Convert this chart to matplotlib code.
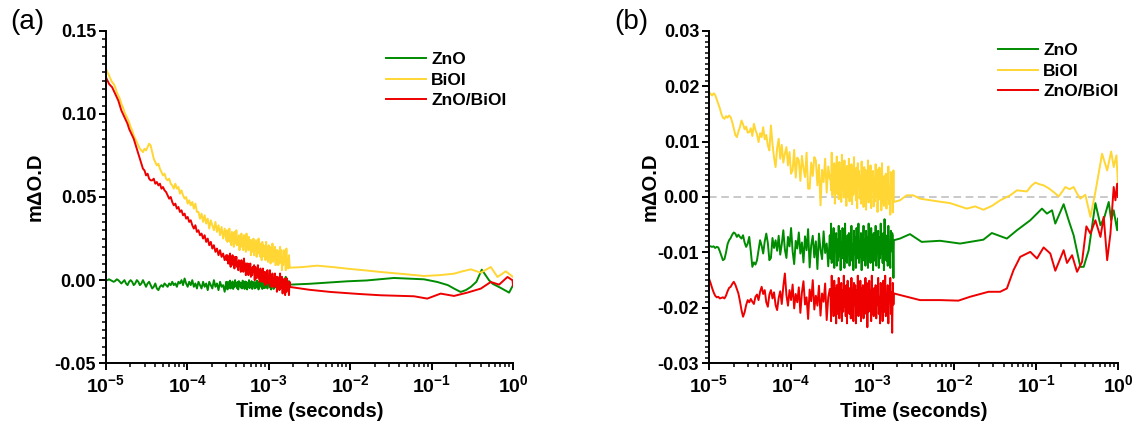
import numpy as np
import matplotlib
matplotlib.use("Agg")
import matplotlib.pyplot as plt
from matplotlib.ticker import FixedLocator, LogLocator, MultipleLocator, NullFormatter
from matplotlib.font_manager import FontProperties

plt.rcParams['font.family'] = ['Liberation Sans', 'DejaVu Sans']
plt.rcParams['mathtext.fontset'] = 'custom'
plt.rcParams['mathtext.rm'] = 'Liberation Sans:bold'
plt.rcParams['mathtext.bf'] = 'Liberation Sans:bold'
plt.rcParams['mathtext.it'] = 'Liberation Sans:bold:italic'
plt.rcParams['axes.unicode_minus'] = False

# ---------------------------------------------------------------------------
# Transient absorption decays (mΔO.D)
# fast window, part 1: 1e-5 .. 3e-4 s   (log-spaced samples)
# fast window, part 2: 3e-4 .. 1.8e-3 s (dense samples)
# slow window: 1.8e-3 .. 1 s            (given as log10 t, value)
# ---------------------------------------------------------------------------
t_start, t_mid, t_fast_end = 1e-5, 3.0e-4, 1.8e-3

# ----- panel (a) -----
zno_a_early = [
    0.000, 0.000, 0.0005, 0.000, -0.0005, -0.001, -0.0005, 0.0005, 0.000, -0.001,
    -0.002, -0.001, 0.000, -0.002, -0.003, -0.001, 0.000, -0.001, -0.003, -0.002,
    0.000, -0.001, -0.003, -0.002, 0.000, -0.002, -0.004, -0.002, -0.001, -0.003,
    -0.005, -0.004, -0.002, -0.005, -0.006, -0.004, -0.003, -0.004, -0.002, -0.003,
    -0.004, -0.002, -0.003, -0.001, -0.003, -0.002, -0.004, -0.001, -0.002, 0.000,
    -0.003, 0.001, -0.002, -0.004, -0.001, -0.003, 0.000, -0.004, -0.002, -0.005,
    -0.001, -0.003, -0.005, -0.001, -0.004, -0.002, -0.006, -0.001, -0.003, -0.005,
    0.000, -0.004, -0.002, -0.006, -0.001, -0.004, -0.003, -0.007, -0.001,
]
zno_a_late = [
    -0.0014, -0.0056, -0.0011, -0.0028, -0.0045, -0.0003, -0.0050, -0.0020, -0.0034, -0.0008,
    -0.0053, -0.0017, -0.0042, 0.0000, -0.0036, -0.0022, -0.0048, -0.0011, -0.0056, -0.0006,
    -0.0031, -0.0014, -0.0045, -0.0020, -0.0050, -0.0003, -0.0039, -0.0025, -0.0053, -0.0008,
    -0.0034, -0.0011, -0.0056, -0.0017, -0.0042, 0.0000, -0.0048, -0.0022, -0.0036, -0.0006,
    -0.0053, -0.0014, -0.0031, -0.0011, -0.0050, -0.0020, -0.0045, -0.0003, -0.0039, -0.0008,
    -0.0056, -0.0022, -0.0042, -0.0006, -0.0034, -0.0017, -0.0053, 0.0000, -0.0045, -0.0025,
    -0.0048, -0.0014, -0.0036, -0.0011, -0.0050, -0.0020, -0.0034, -0.0003, -0.0045, -0.0025,
    -0.0056, -0.0008, -0.0036, -0.0017, -0.0053, -0.0006, -0.0028, -0.0042, 0.0000, -0.0048,
    -0.0022, -0.0039, -0.0011, -0.0056, -0.0014, -0.0031, -0.0003, -0.0045, -0.0020, -0.0050,
    -0.0008, -0.0034, -0.0017, 0.0020, 0.0000, -0.0039, -0.0025, -0.0048, -0.0006, -0.0036,
]
zno_a_slow_logt = [-2.74, -2.5, -2.2, -2.036, -1.8, -1.463, -1.25, -1.094, -0.93, -0.8,
                   -0.72, -0.643, -0.58, -0.519, -0.45, -0.384, -0.294, -0.25, -0.15, -0.048, 0.0]
zno_a_slow = [-0.0027, -0.0022, -0.0012, -0.0007, -0.0002, 0.0013, 0.0008, 0.0005, -0.0011, -0.0030,
              -0.0052, -0.0071, -0.0060, -0.0041, -0.0010, 0.0063, -0.0001, -0.0022, -0.0047, -0.0075, -0.0030]

biol_a_early = [
    0.127, 0.125, 0.123, 0.121, 0.119, 0.118, 0.116, 0.113, 0.111, 0.109,
    0.106, 0.104, 0.101, 0.099, 0.097, 0.095, 0.092, 0.090, 0.087, 0.085,
    0.083, 0.081, 0.079, 0.078, 0.077, 0.079, 0.078, 0.080, 0.082, 0.081,
    0.077, 0.073, 0.071, 0.069, 0.070, 0.067, 0.065, 0.063, 0.064, 0.061,
    0.060, 0.061, 0.058, 0.057, 0.055, 0.058, 0.055, 0.056, 0.052, 0.054,
    0.051, 0.049, 0.050, 0.046, 0.048, 0.045, 0.047, 0.043, 0.046, 0.041,
    0.041, 0.037, 0.040, 0.035, 0.039, 0.034, 0.037, 0.031, 0.036, 0.033,
    0.030, 0.035, 0.029, 0.033, 0.027, 0.032, 0.025, 0.031, 0.024,
]
biol_a_late = [
    0.030, 0.023, 0.028, 0.025, 0.031, 0.023, 0.027, 0.021, 0.029, 0.024,
    0.027, 0.020, 0.029, 0.025, 0.022, 0.030, 0.021, 0.025, 0.022, 0.027,
    0.018, 0.026, 0.023, 0.028, 0.020, 0.025, 0.018, 0.027, 0.021, 0.025,
    0.017, 0.028, 0.020, 0.022, 0.018, 0.026, 0.019, 0.024, 0.015, 0.024,
    0.021, 0.017, 0.025, 0.015, 0.022, 0.019, 0.024, 0.014, 0.022, 0.016,
    0.025, 0.017, 0.020, 0.014, 0.022, 0.012, 0.023, 0.017, 0.021, 0.014,
    0.019, 0.012, 0.023, 0.014, 0.017, 0.011, 0.021, 0.015, 0.020, 0.010,
    0.018, 0.012, 0.022, 0.011, 0.016, 0.013, 0.020, 0.009, 0.018, 0.014,
    0.018, 0.009, 0.016, 0.010, 0.020, 0.011, 0.018, 0.006, 0.014, 0.009,
    0.018, 0.011, 0.015, 0.006, 0.019, 0.008, 0.012, 0.007, 0.015, 0.009,
]
biol_a_slow_logt = [-2.74, -2.6, -2.405, -2.2, -2.036, -1.8, -1.626, -1.35, -1.094, -0.9,
                    -0.725, -0.621, -0.519, -0.396, -0.273, -0.191, -0.089, 0.0]
biol_a_slow = [0.0075, 0.0078, 0.0087, 0.0078, 0.0069, 0.0058, 0.0049, 0.0037, 0.0025, 0.0030,
               0.0039, 0.0053, 0.0065, 0.0045, 0.0079, 0.0019, 0.0053, 0.0019]

hetero_a_early = [
    0.122, 0.120, 0.118, 0.117, 0.116, 0.114, 0.112, 0.110, 0.108, 0.105,
    0.102, 0.100, 0.098, 0.096, 0.094, 0.091, 0.089, 0.087, 0.085, 0.082,
    0.079, 0.076, 0.073, 0.070, 0.067, 0.066, 0.063, 0.064, 0.061, 0.060,
    0.060, 0.061, 0.058, 0.059, 0.057, 0.058, 0.055, 0.056, 0.054, 0.053,
    0.051, 0.049, 0.050, 0.047, 0.045, 0.046, 0.043, 0.044, 0.041, 0.042,
    0.039, 0.040, 0.037, 0.038, 0.035, 0.036, 0.033, 0.031, 0.033, 0.029,
    0.030, 0.027, 0.028, 0.025, 0.027, 0.023, 0.025, 0.021, 0.023, 0.019,
    0.021, 0.017, 0.019, 0.015, 0.018, 0.014, 0.016, 0.012, 0.015,
]
hetero_a_late = [
    0.012, 0.015, 0.010, 0.013, 0.010, 0.016, 0.008, 0.013, 0.011, 0.015,
    0.009, 0.012, 0.007, 0.014, 0.009, 0.014, 0.008, 0.011, 0.006, 0.012,
    0.009, 0.011, 0.005, 0.012, 0.007, 0.009, 0.005, 0.013, 0.006, 0.010,
    0.003, 0.010, 0.006, 0.010, 0.003, 0.007, 0.005, 0.010, 0.002, 0.007,
    0.003, 0.008, 0.005, 0.009, 0.000, 0.008, 0.001, 0.005, 0.003, 0.009,
    0.001, 0.006, -0.001, 0.007, 0.002, 0.005, -0.001, 0.007, -0.001, 0.002,
    0.005, -0.003, 0.004, 0.000, 0.006, -0.002, 0.002, -0.001, 0.006, -0.004,
    0.003, -0.001, 0.004, -0.004, 0.001, -0.004, 0.004, -0.002, 0.002, -0.007,
    0.002, -0.004, -0.001, -0.006, 0.004, -0.005, -0.002, 0.002, -0.008, -0.001,
    -0.005, 0.001, -0.009, -0.003, -0.007, 0.001, -0.005, -0.003, -0.009, -0.001,
]
hetero_a_slow_logt = [-2.74, -2.5, -2.242, -1.9, -1.626, -1.217, -1.053, -0.889, -0.725, -0.561,
                      -0.396, -0.273, -0.171, -0.068, -0.006, 0.0]
hetero_a_slow = [-0.0041, -0.0058, -0.0071, -0.0083, -0.0091, -0.0097, -0.0111, -0.0081, -0.0095, -0.0075,
                 -0.0051, -0.0011, -0.0027, 0.0019, -0.0001, -0.0035]

# ----- panel (b) -----
zno_b_early = [
    -0.0088, -0.0089, -0.0090, -0.0089, -0.0092, -0.0090, -0.0091, -0.0098, -0.0106, -0.0114,
    -0.0112, -0.0100, -0.0085, -0.0078, -0.0074, -0.0068, -0.0064, -0.0066, -0.0072, -0.0068,
    -0.0072, -0.0075, -0.0069, -0.0082, -0.0090, -0.0084, -0.0072, -0.0098, -0.0126, -0.0118,
    -0.0122, -0.0114, -0.0096, -0.0078, -0.0088, -0.0102, -0.0080, -0.0066, -0.0083, -0.0114,
    -0.0110, -0.0074, -0.0092, -0.0078, -0.0097, -0.0070, -0.0104, -0.0085, -0.0060, -0.0095,
    -0.0110, -0.0072, -0.0089, -0.0056, -0.0098, -0.0121, -0.0079, -0.0093, -0.0064, -0.0102,
    -0.0082, -0.0118, -0.0071, -0.0096, -0.0058, -0.0127, -0.0087, -0.0070, -0.0109, -0.0080,
    -0.0130, -0.0066, -0.0095, -0.0112, -0.0062, -0.0101, -0.0084, -0.0125, -0.0069,
]
zno_b_late = [
    -0.0111, -0.0048, -0.0119, -0.0082, -0.0103, -0.0056, -0.0128, -0.0069, -0.0094, -0.0065,
    -0.0124, -0.0077, -0.0115, -0.0052, -0.0107, -0.0061, -0.0132, -0.0082, -0.0111, -0.0056,
    -0.0098, -0.0073, -0.0128, -0.0048, -0.0115, -0.0086, -0.0119, -0.0069, -0.0103, -0.0065,
    -0.0124, -0.0077, -0.0098, -0.0052, -0.0115, -0.0086, -0.0132, -0.0061, -0.0103, -0.0073,
    -0.0128, -0.0056, -0.0090, -0.0111, -0.0048, -0.0119, -0.0082, -0.0107, -0.0065, -0.0132,
    -0.0069, -0.0094, -0.0052, -0.0115, -0.0077, -0.0124, -0.0061, -0.0098, -0.0073, -0.0128,
    -0.0048, -0.0107, -0.0086, -0.0119, -0.0056, -0.0103, -0.0069, -0.0132, -0.0065, -0.0090,
    -0.0115, -0.0052, -0.0124, -0.0077, -0.0098, -0.0061, -0.0128, -0.0073, -0.0111, -0.0048,
    -0.0103, -0.0082, -0.0119, -0.0065, -0.0132, -0.0040, -0.0094, -0.0069, -0.0115, -0.0077,
    -0.0124, -0.0052, -0.0107, -0.0086, -0.0128, -0.0061, -0.0098, -0.0065, -0.0070, -0.0146,
]
zno_b_slow_logt = [-2.74, -2.665, -2.543, -2.4, -2.175, -1.93, -1.645, -1.542, -1.358, -1.235,
                   -1.072, -0.929, -0.868, -0.806, -0.766, -0.664, -0.603, -0.542, -0.46, -0.419,
                   -0.358, -0.276, -0.214, -0.165, -0.113, -0.083, -0.052, -0.01, 0.0]
zno_b_slow = [-0.0078, -0.0075, -0.0067, -0.0081, -0.0079, -0.0084, -0.0077, -0.0065, -0.0075, -0.0060,
              -0.0042, -0.0021, -0.0030, -0.0024, -0.0048, -0.0013, -0.0042, -0.0069, -0.0126, -0.0126,
              -0.0096, -0.0011, -0.0051, -0.0036, -0.0009, -0.0042, -0.0024, -0.0060, -0.0039]

biol_b_early = [
    0.0190, 0.0186, 0.0183, 0.0187, 0.0184, 0.0176, 0.0168, 0.0160, 0.0150, 0.0143,
    0.0141, 0.0146, 0.0143, 0.0147, 0.0144, 0.0135, 0.0124, 0.0112, 0.0108, 0.0118,
    0.0126, 0.0138, 0.0131, 0.0122, 0.0127, 0.0116, 0.0117, 0.0124, 0.0110, 0.0132,
    0.0121, 0.0113, 0.0099, 0.0115, 0.0108, 0.0126, 0.0104, 0.0112, 0.0093, 0.0084,
    0.0129, 0.0096, 0.0071, 0.0054, 0.0088, 0.0105, 0.0069, 0.0094, 0.0062, 0.0078,
    0.0090, 0.0057, 0.0081, 0.0042, 0.0048, 0.0085, 0.0035, 0.0071, 0.0066, 0.0029,
    0.0074, 0.0052, 0.0036, 0.0080, 0.0015, 0.0015, 0.0062, 0.0038, 0.0072, 0.0066,
    0.0021, 0.0058, -0.0015, 0.0049, 0.0027, 0.0069, 0.0008, 0.0055, 0.0033,
]
biol_b_late = [
    0.0035, 0.0012, 0.0080, 0.0003, 0.0043, 0.0016, 0.0061, -0.0012, 0.0056, 0.0028,
    0.0073, 0.0005, 0.0046, -0.0004, 0.0063, 0.0023, 0.0049, -0.0009, 0.0076, 0.0013,
    0.0035, -0.0001, 0.0066, 0.0016, 0.0052, -0.0016, 0.0056, 0.0029, 0.0002, 0.0069,
    -0.0008, 0.0041, 0.0019, 0.0059, -0.0013, 0.0045, 0.0004, 0.0072, 0.0013, 0.0035,
    -0.0006, 0.0053, -0.0020, 0.0061, 0.0020, 0.0047, -0.0003, 0.0038, -0.0012, 0.0064,
    0.0006, 0.0028, -0.0018, 0.0054, 0.0014, 0.0049, -0.0023, 0.0040, -0.0001, 0.0066,
    -0.0010, 0.0030, 0.0007, 0.0057, -0.0020, 0.0043, 0.0015, 0.0047, -0.0017, 0.0033,
    -0.0008, 0.0059, 0.0000, 0.0050, -0.0027, 0.0027, -0.0005, 0.0053, 0.0008, 0.0035,
    -0.0024, 0.0061, -0.0011, 0.0020, -0.0016, 0.0038, 0.0002, 0.0042, -0.0021, 0.0028,
    0.0005, 0.0055, -0.0013, 0.0018, -0.0032, 0.0045, -0.0001, 0.0031, -0.0028, 0.0048,
]
biol_b_slow_logt = [-2.74, -2.665, -2.583, -2.502, -2.42, -2.2, -2.053, -1.95, -1.848, -1.746,
                    -1.645, -1.54, -1.44, -1.317, -1.235, -1.17, -1.113, -1.06, -1.011, -0.96,
                    -0.909, -0.85, -0.787, -0.725, -0.68, -0.643, -0.59, -0.542, -0.5, -0.46,
                    -0.399, -0.337, -0.276, -0.194, -0.132, -0.083, -0.052, -0.019, 0.0]
biol_b_slow = [-0.0009, -0.0006, 0.0003, 0.0003, -0.0003, -0.0008, -0.0011, -0.0016, -0.0021, -0.0017,
               -0.0023, -0.0016, -0.0006, 0.0003, 0.0012, 0.0011, 0.0010, 0.0020, 0.0026, 0.0023,
               0.0021, 0.0016, 0.0009, 0.0001, 0.0010, 0.0018, 0.0014, 0.0018, 0.0006, -0.0003,
               0.0004, -0.0036, 0.0009, 0.0078, 0.0048, 0.0082, 0.0054, 0.0075, 0.0024]

hetero_b_early = [
    -0.0147, -0.0155, -0.0164, -0.0172, -0.0178, -0.0181, -0.0180, -0.0183, -0.0182, -0.0181,
    -0.0183, -0.0178, -0.0170, -0.0164, -0.0162, -0.0157, -0.0153, -0.0158, -0.0166, -0.0174,
    -0.0188, -0.0204, -0.0216, -0.0208, -0.0195, -0.0186, -0.0190, -0.0184, -0.0189, -0.0193,
    -0.0180, -0.0176, -0.0186, -0.0171, -0.0162, -0.0175, -0.0168, -0.0190, -0.0198, -0.0176,
    -0.0168, -0.0183, -0.0172, -0.0195, -0.0204, -0.0182, -0.0170, -0.0193, -0.0161, -0.0138,
    -0.0177, -0.0196, -0.0168, -0.0186, -0.0158, -0.0201, -0.0175, -0.0190, -0.0163, -0.0209,
    -0.0172, -0.0152, -0.0194, -0.0181, -0.0220, -0.0167, -0.0188, -0.0150, -0.0203, -0.0178,
    -0.0196, -0.0160, -0.0214, -0.0174, -0.0189, -0.0156, -0.0222, -0.0181, -0.0166,
]
hetero_b_late = [
    -0.0168, -0.0224, -0.0142, -0.0202, -0.0181, -0.0215, -0.0151, -0.0198, -0.0164, -0.0228,
    -0.0159, -0.0185, -0.0211, -0.0146, -0.0219, -0.0172, -0.0194, -0.0155, -0.0224, -0.0168,
    -0.0207, -0.0142, -0.0198, -0.0176, -0.0215, -0.0159, -0.0228, -0.0151, -0.0189, -0.0164,
    -0.0211, -0.0172, -0.0219, -0.0146, -0.0202, -0.0181, -0.0224, -0.0155, -0.0194, -0.0159,
    -0.0228, -0.0168, -0.0207, -0.0142, -0.0215, -0.0176, -0.0198, -0.0151, -0.0224, -0.0164,
    -0.0189, -0.0159, -0.0219, -0.0172, -0.0211, -0.0146, -0.0202, -0.0155, -0.0235, -0.0176,
    -0.0207, -0.0151, -0.0194, -0.0168, -0.0224, -0.0142, -0.0211, -0.0181, -0.0215, -0.0164,
    -0.0198, -0.0159, -0.0219, -0.0172, -0.0194, -0.0146, -0.0211, -0.0181, -0.0228, -0.0155,
    -0.0198, -0.0168, -0.0224, -0.0151, -0.0185, -0.0207, -0.0142, -0.0215, -0.0176, -0.0202,
    -0.0159, -0.0228, -0.0164, -0.0189, -0.0146, -0.0211, -0.0172, -0.0245, -0.0155, -0.0194,
]
hetero_b_slow_logt = [-2.74, -2.42, -2.175, -1.951, -1.808, -1.583, -1.44, -1.358, -1.277, -1.195,
                      -1.072, -0.99, -0.909, -0.827, -0.766, -0.664, -0.623, -0.561, -0.5, -0.439,
                      -0.386, -0.337, -0.276, -0.214, -0.174, -0.132, -0.092, -0.052, -0.031, -0.01, 0.0]
hetero_b_slow = [-0.0174, -0.0186, -0.0186, -0.0187, -0.0180, -0.0171, -0.0171, -0.0165, -0.0132, -0.0108,
                 -0.0099, -0.0111, -0.0091, -0.0102, -0.0133, -0.0096, -0.0119, -0.0105, -0.0135, -0.0117,
                 -0.0053, -0.0066, -0.0042, -0.0072, -0.0036, -0.0114, -0.0066, 0.0018, -0.0006, 0.0024, 0.0000]

series_names = ['ZnO', 'BiOI', 'ZnO/BiOI']
series_colors = ['#008C00', '#FFD633', '#EE0000']

yticks_a = [-0.05, 0.00, 0.05, 0.10, 0.15]
yticks_b = [-0.03, -0.02, -0.01, 0.00, 0.01, 0.02, 0.03]
xtick_exponents = [-5, -4, -3, -2, -1, 0]


def full_trace(early, late, slow_logt, slow):
    t_early = np.geomspace(t_start, t_mid, len(early))
    t_late = np.geomspace(t_mid, t_fast_end, len(late) + 1)[1:]
    t = np.concatenate([t_early, t_late, 10.0 ** np.asarray(slow_logt)])
    y = np.concatenate([early, late, slow])
    return t, y


def style_axes(ax, yticks, ylim, yminor, legend_anchor, ylabel_x):
    ax.set_xscale('log')
    ax.set_xlim(1e-5, 1)
    ax.set_ylim(*ylim)
    for side in ('top', 'right'):
        ax.spines[side].set_visible(False)
    for side in ('left', 'bottom'):
        ax.spines[side].set_linewidth(1.4)
    ax.xaxis.set_major_locator(FixedLocator([10.0 ** e for e in xtick_exponents]))
    ax.set_xticklabels([r'$\mathbf{10^{%d}}$' % e for e in xtick_exponents])
    ax.xaxis.set_minor_locator(LogLocator(base=10, subs=np.arange(2, 10)))
    ax.xaxis.set_minor_formatter(NullFormatter())
    ax.set_yticks(yticks)
    ax.set_yticklabels(['%.2f' % v for v in yticks])
    ax.yaxis.set_minor_locator(MultipleLocator(yminor))
    ax.tick_params(which='major', direction='out', length=5, width=1.4,
                   labelsize=13, pad=2)
    ax.tick_params(which='minor', direction='out', length=2.8, width=1.1)
    for lab in ax.get_yticklabels():
        lab.set_fontweight('bold')
    ax.tick_params(axis='x', which='major', pad=3, labelsize=14)
    ax.set_xlabel('Time (seconds)', fontsize=14.5, fontweight='bold')
    ax.xaxis.set_label_coords(0.5, -0.115)
    ax.set_ylabel('mΔO.D', fontsize=14.5, fontweight='bold')
    ax.yaxis.set_label_coords(ylabel_x, 0.53)
    ax.legend(loc='upper left', bbox_to_anchor=legend_anchor, frameon=False,
              handlelength=2.3, handletextpad=0.3, labelspacing=0.3,
              borderaxespad=0, borderpad=0,
              prop=FontProperties(family='Liberation Sans', weight='bold', size=12.5))


fig = plt.figure(figsize=(11.32, 4.25), dpi=100)
ax_a = fig.add_axes([0.0936, 0.1452, 0.3596, 0.7826])
ax_b = fig.add_axes([0.6263, 0.1452, 0.3613, 0.7826])

panel_a = [(zno_a_early, zno_a_late, zno_a_slow_logt, zno_a_slow),
           (biol_a_early, biol_a_late, biol_a_slow_logt, biol_a_slow),
           (hetero_a_early, hetero_a_late, hetero_a_slow_logt, hetero_a_slow)]
panel_b = [(zno_b_early, zno_b_late, zno_b_slow_logt, zno_b_slow),
           (biol_b_early, biol_b_late, biol_b_slow_logt, biol_b_slow),
           (hetero_b_early, hetero_b_late, hetero_b_slow_logt, hetero_b_slow)]

for parts, name, color in zip(panel_a, series_names, series_colors):
    t, y = full_trace(*parts)
    ax_a.plot(t, y, color=color, lw=1.4, label=name)

ax_b.axhline(0.0, color='#BBBBBB', lw=1.1, ls=(0, (5, 3)), zorder=1)
for parts, name, color in zip(panel_b, series_names, series_colors):
    t, y = full_trace(*parts)
    ax_b.plot(t, y, color=color, lw=1.4, label=name)

style_axes(ax_a, yticks_a, (-0.05, 0.15), 0.005, (0.688, 0.935), -0.15)
style_axes(ax_b, yticks_b, (-0.03, 0.03), 0.001, (0.707, 0.962), -0.12)

fig.text(0.024, 0.948, '(a)', fontsize=20, ha='center', va='center')
fig.text(0.558, 0.948, '(b)', fontsize=20, ha='center', va='center')

fig.savefig('out.png', dpi=100)
